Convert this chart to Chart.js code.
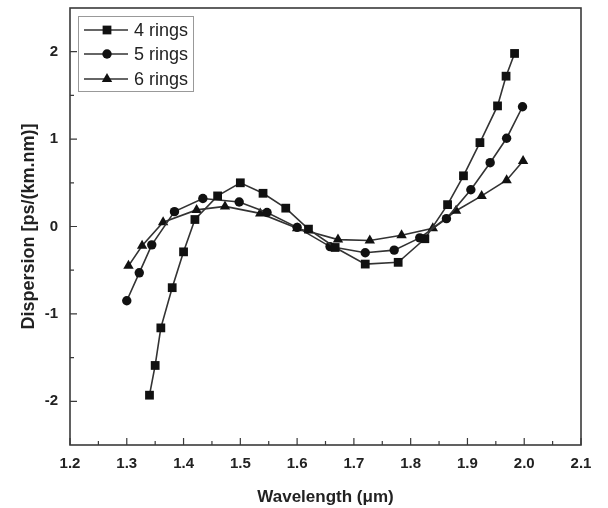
<!DOCTYPE html>
<html>
<head>
<meta charset="utf-8">
<script src="https://cdn.jsdelivr.net/npm/chart.js@4/dist/chart.umd.min.js"></script>
<style>
  html, body { margin: 0; padding: 0; background: #fff; }
  #wrap { width: 608px; height: 508px; }
</style>
</head>
<body>
<div id="wrap"><canvas id="c" width="608" height="508"></canvas></div>
<script>
// values
const seriesNames = ['4 rings', '5 rings', '6 rings'];

const wl4 = [1.34, 1.35, 1.36, 1.38, 1.40, 1.42, 1.46, 1.50, 1.54, 1.58, 1.62, 1.667, 1.72, 1.778, 1.825, 1.865, 1.893, 1.922, 1.953, 1.968, 1.983];
const d4 = [-1.93, -1.59, -1.16, -0.70, -0.29, 0.08, 0.35, 0.50, 0.38, 0.21, -0.03, -0.24, -0.43, -0.41, -0.14, 0.25, 0.58, 0.96, 1.38, 1.72, 1.98];

const wl5 = [1.30, 1.322, 1.344, 1.384, 1.434, 1.498, 1.547, 1.60, 1.658, 1.72, 1.771, 1.816, 1.863, 1.906, 1.94, 1.969, 1.997];
const d5 = [-0.85, -0.53, -0.21, 0.17, 0.32, 0.28, 0.16, -0.01, -0.23, -0.30, -0.27, -0.13, 0.09, 0.42, 0.73, 1.01, 1.37];

const wl6 = [1.303, 1.327, 1.364, 1.423, 1.473, 1.535, 1.60, 1.672, 1.728, 1.784, 1.839, 1.88, 1.925, 1.969, 1.998];
const d6 = [-0.45, -0.22, 0.05, 0.19, 0.23, 0.15, -0.02, -0.15, -0.16, -0.10, -0.02, 0.18, 0.35, 0.53, 0.75];

const xTicks = [1.2, 1.3, 1.4, 1.5, 1.6, 1.7, 1.8, 1.9, 2.0, 2.1];
const xMinor = [1.25, 1.35, 1.45, 1.55, 1.65, 1.75, 1.85, 1.95, 2.05];
const yTicks = [-2, -1, 0, 1, 2];
const yMinor = [-1.5, -0.5, 0.5, 1.5];

const toPoints = (xs, ys) => xs.map((x, i) => ({ x: x, y: ys[i] }));

const styles = [
  { pointStyle: 'rect', pointRadius: 6.2 },
  { pointStyle: 'circle', pointRadius: 4.7 },
  { pointStyle: 'triangle', pointRadius: 6 }
];

const datasets = [[wl4, d4], [wl5, d5], [wl6, d6]].map((s, i) => ({
  label: seriesNames[i],
  data: toPoints(s[0], s[1]),
  showLine: true,
  borderColor: '#333',
  borderWidth: 1.6,
  backgroundColor: '#111',
  pointBackgroundColor: '#111',
  pointBorderColor: '#111',
  pointBorderWidth: 0,
  pointStyle: styles[i].pointStyle,
  pointRadius: styles[i].pointRadius,
  tension: 0
}));

// frame, inward ticks and the boxed legend
const decor = {
  id: 'decor',
  afterDatasetsDraw(chart) {
    const ctx = chart.ctx;
    const a = chart.chartArea;
    const xs = chart.scales.x, ys = chart.scales.y;
    ctx.save();
    ctx.strokeStyle = '#3a3a3a';
    ctx.lineWidth = 1.6;
    ctx.strokeRect(a.left, a.top, a.right - a.left, a.bottom - a.top);

    ctx.lineWidth = 1.2;
    ctx.beginPath();
    xTicks.forEach(v => { const p = xs.getPixelForValue(v); ctx.moveTo(p, a.bottom); ctx.lineTo(p, a.bottom - 7); });
    xMinor.forEach(v => { const p = xs.getPixelForValue(v); ctx.moveTo(p, a.bottom); ctx.lineTo(p, a.bottom - 4); });
    yTicks.forEach(v => { const p = ys.getPixelForValue(v); ctx.moveTo(a.left, p); ctx.lineTo(a.left + 7, p); });
    yMinor.forEach(v => { const p = ys.getPixelForValue(v); ctx.moveTo(a.left, p); ctx.lineTo(a.left + 4, p); });
    ctx.stroke();

    // legend
    const bx = 78, by = 16, bw = 115, bh = 75;
    ctx.fillStyle = '#fff';
    ctx.fillRect(bx, by, bw, bh);
    ctx.strokeStyle = '#999';
    ctx.lineWidth = 1;
    ctx.strokeRect(bx + 0.5, by + 0.5, bw, bh);
    const rows = [30, 54, 79];
    chart.data.datasets.forEach((ds, i) => {
      const y = rows[i];
      ctx.strokeStyle = '#333';
      ctx.lineWidth = 1.6;
      ctx.beginPath();
      ctx.moveTo(84, y);
      ctx.lineTo(128, y);
      ctx.stroke();
      ctx.fillStyle = '#111';
      Chart.helpers.drawPoint(ctx, { pointStyle: ds.pointStyle, radius: ds.pointRadius, borderWidth: 0 }, 107, y);
      ctx.fillStyle = '#222';
      ctx.font = '18px "Liberation Sans", Arial, sans-serif';
      ctx.textBaseline = 'middle';
      ctx.textAlign = 'left';
      ctx.fillText(ds.label, 134, y + 1);
    });
    ctx.restore();
  }
};

const tickFont = { family: '"Liberation Sans", Arial, sans-serif', size: 15, weight: 'bold' };
const titleFont = { family: '"Liberation Sans", Arial, sans-serif', size: 17, weight: 'bold' };

new Chart(document.getElementById('c'), {
  type: 'scatter',
  data: { datasets: datasets },
  options: {
    responsive: false,
    animation: false,
    layout: { padding: { left: 0, top: 8, right: 27, bottom: 0 } },
    plugins: { legend: { display: false }, tooltip: { enabled: false } },
    scales: {
      x: {
        type: 'linear',
        min: 1.2,
        max: 2.1,
        afterBuildTicks: s => { s.ticks = xTicks.map(v => ({ value: v })); },
        afterFit: s => { s.height = 63; s.paddingLeft = 0; s.paddingRight = 0; },
        grid: { display: false, drawTicks: false },
        border: { display: false },
        ticks: { color: '#222', font: tickFont, padding: 10, maxRotation: 0, autoSkip: false,
          callback: v => v.toFixed(1) },
        title: { display: true, text: 'Wavelength (μm)', color: '#222', font: titleFont, padding: { top: 8, bottom: 0 } }
      },
      y: {
        type: 'linear',
        min: -2.5,
        max: 2.5,
        afterBuildTicks: s => { s.ticks = yTicks.map(v => ({ value: v })); },
        afterFit: s => { s.width = 70; s.paddingTop = 0; s.paddingBottom = 0; },
        grid: { display: false, drawTicks: false },
        border: { display: false },
        ticks: { color: '#222', font: tickFont, padding: 12, callback: v => String(v) },
        title: { display: true, text: 'Dispersion [ps/(km.nm)]', color: '#222',
          font: { family: titleFont.family, size: 18, weight: 'bold' }, padding: { top: 18, bottom: 0 } }
      }
    }
  },
  plugins: [decor]
});
</script>
</body>
</html>
